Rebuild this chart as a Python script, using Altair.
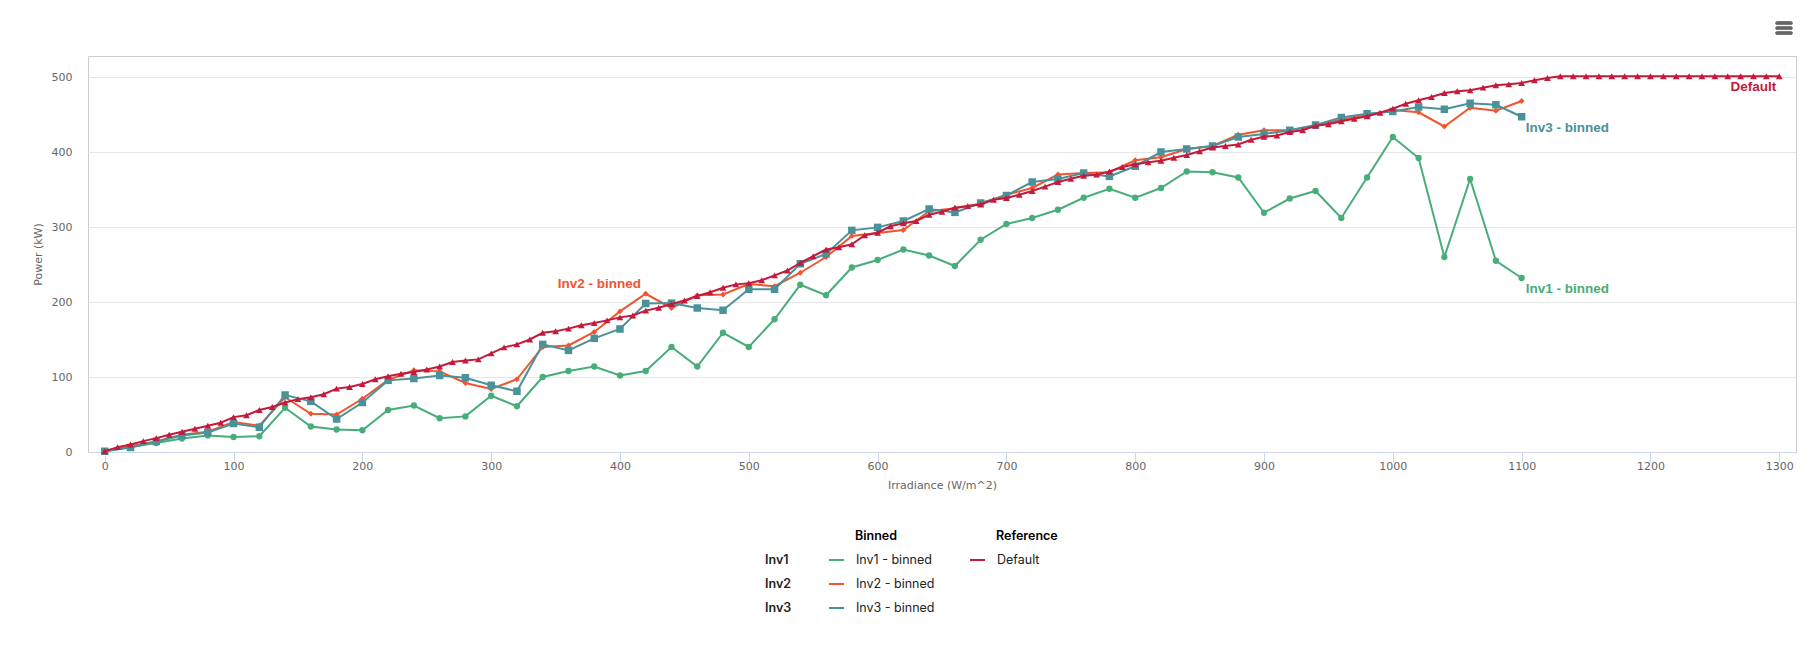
import altair as alt
import pandas as pd

# ---------------- data ----------------
irr_binned = list(range(0, 1101, 20))
inv1 = [1, 6.7, 12, 18, 22, 20, 21, 59, 34, 30,
        29, 56, 62, 45, 47.5, 75, 61, 100, 108, 114,
        102, 108, 140, 114, 159, 140, 177, 223, 209, 246,
        256, 270, 262, 248, 283, 304, 312, 323, 339, 351,
        339, 352, 374, 373, 366, 319, 338, 348, 312, 366,
        420, 392, 260, 364, 255, 232]
inv2 = [1, 8, 14, 23, 27, 40, 35, 73, 51, 50,
        71, 96, 109, 107.5, 92, 84, 97, 140, 142, 160,
        187.5, 211, 192, 209, 210, 224, 221, 239, 260, 288,
        292, 296, 321, 325, 331, 343, 352, 370, 372, 373,
        389, 393, 404, 408, 423, 429, 429, 435, 443, 449,
        456, 453, 434, 459, 455, 468]
inv3 = [1, 6, 14, 22, 26, 38, 33, 76, 67.5, 44,
        66, 95.5, 98, 102, 99, 89, 81, 143.5, 135.5, 151.5,
        164, 198, 198.5, 192, 189, 217, 217, 251, 264, 295.5,
        299.5, 308, 324, 319.5, 332, 342, 360, 364, 372, 367.5,
        381, 400, 404, 408, 420, 424, 429, 436, 446, 451,
        454, 460, 457, 465, 463, 447]

irr_default = list(range(0, 1301, 10))
default = [1, 6.5, 10, 14.5, 18.5, 23, 27, 31, 35, 39,
           46.5, 49, 56, 60, 66, 70.5, 73, 77, 84.5, 86.7,
           90.7, 97, 101, 104.4, 106.7, 110, 114, 120, 122, 123.5,
           131.5, 139.5, 143.5, 150, 159, 161, 164.5, 169, 172, 175.5,
           179.5, 182, 188.5, 192.4, 197.3, 202, 208, 213, 219, 223.5,
           225, 229, 235.5, 242, 252, 261, 270, 273, 277, 289,
           292.4, 301, 305, 308, 316.4, 320.4, 325.8, 328, 330, 336.4,
           338.7, 343, 348, 353.8, 360, 364.4, 368.4, 369.8, 374, 380,
           383.6, 386.2, 388.4, 392.4, 396, 401, 406, 408, 410, 416.4,
           420.4, 422, 426.7, 429, 435, 437, 441, 444.4, 447.6, 452.4,
           457.8, 464.4, 469, 473.3, 478.7, 481, 482.2, 485.8, 489, 490.2,
           492, 495.6, 498.7, 501, 501, 501, 501, 501, 501, 501,
           501, 501, 501, 501, 501, 501, 501, 501, 501, 501,
           501]

series_names = ["Inv1 - binned", "Inv2 - binned", "Inv3 - binned"]
row_labels = ["Inv1", "Inv2", "Inv3"]
ref_names = ["Default"]
group_titles = ["Binned", "Reference"]
binned_values = [inv1, inv2, inv3]

x_ticks = [0, 100, 200, 300, 400, 500, 600, 700, 800, 900, 1000, 1100, 1200, 1300]
y_ticks = [0, 100, 200, 300, 400, 500]
x_title = "Irradiance (W/m^2)"
y_title = "Power (kW)"

# series-label annotations (text, anchor irradiance, anchor power)
label_text = ["Inv1 - binned", "Inv2 - binned", "Inv3 - binned", "Default"]
label_x = [1100, 384, 1100, 1300]
label_y = [232, 224, 447, 501]

# ---------------- styles ----------------
colors = ["#47ad79", "#f2542d", "#4a919a"]
ref_color = "#c41a3b"
shapes = ["circle", "diamond", "square"]
shape_sizes = [40, 34, 56]
label_align = ["left", "center", "left", "right"]
label_dx = [4, 0, 4, -3]
label_dy = [11, 0, 11, 11]
label_colors = colors + [ref_color]

AXIS_FONT = "DejaVu Sans"
LEG_FONT = "Inter"
LBL_FONT = "Liberation Sans"

LEG_COMMON = dict(orient="none", direction="vertical", symbolType="stroke",
                  symbolSize=225, symbolStrokeWidth=2, labelOffset=11,
                  rowPadding=9, padding=0, title=None)
ROW_TOP = 495.5
HEAD_TOP = 471.5

x_enc = alt.X("x:Q",
              scale=alt.Scale(domain=[-13, 1313], nice=False, zero=False),
              axis=alt.Axis(values=x_ticks, title=x_title, grid=False, format="d",
                            domainColor="#ccd6eb", tickColor="#ccd6eb",
                            tickSize=10, labelPadding=-2, titlePadding=8,
                            labelFlush=False))
y_enc = alt.Y("y:Q",
              scale=alt.Scale(domain=[0, 528], nice=False),
              axis=alt.Axis(values=y_ticks, title=y_title, grid=True, format="d",
                            gridColor="#e6e6e6", domain=False, ticks=False,
                            tickSize=0, labelPadding=16, titlePadding=8))

color_enc = alt.Color("series:N",
                      scale=alt.Scale(domain=series_names, range=colors),
                      legend=alt.Legend(legendX=740, legendY=ROW_TOP, **LEG_COMMON))

layers = []

# binned series
for name, vals, col, shp, sz in zip(series_names, binned_values, colors, shapes, shape_sizes):
    df = pd.DataFrame({"x": irr_binned, "y": vals, "series": name})
    base = alt.Chart(df)
    layers.append(base.mark_line(strokeWidth=2).encode(x=x_enc, y=y_enc, color=color_enc))
    layers.append(base.mark_point(filled=True, shape=shp, size=sz, color=col, opacity=1)
                  .encode(x=x_enc, y=y_enc))

# reference series
df_ref = pd.DataFrame({"x": irr_default, "y": default, "series": ref_names[0]})
ref_base = alt.Chart(df_ref)
layers.append(ref_base.mark_line(strokeWidth=2).encode(
    x=x_enc, y=y_enc,
    stroke=alt.Stroke("series:N",
                      scale=alt.Scale(domain=ref_names, range=[ref_color]),
                      legend=alt.Legend(legendX=881, legendY=ROW_TOP, **LEG_COMMON))))
layers.append(ref_base.mark_point(filled=True, shape="triangle-up", size=46,
                                  color=ref_color, opacity=1).encode(x=x_enc, y=y_enc))

# grouped-legend row labels and column headers (invisible marks, legends only)
df_rows = pd.DataFrame({"inv": row_labels})
layers.append(alt.Chart(df_rows).mark_line(opacity=0).encode(
    x=alt.value(0), y=alt.value(0),
    strokeDash=alt.StrokeDash("inv:N", scale=alt.Scale(domain=row_labels),
                              legend=alt.Legend(legendX=649, legendY=ROW_TOP,
                                                symbolOpacity=0, labelFontWeight=600,
                                                **LEG_COMMON))))
df_head = pd.DataFrame({"g": group_titles})
layers.append(alt.Chart(df_head).mark_point(opacity=0).encode(
    x=alt.value(0), y=alt.value(0),
    fill=alt.Fill("g:N", scale=alt.Scale(domain=group_titles[:1], range=["#000000"]),
                  legend=alt.Legend(legendX=739, legendY=HEAD_TOP, symbolOpacity=0,
                                    labelFontWeight=600, labelColor="#000000",
                                    **LEG_COMMON))))
layers.append(alt.Chart(df_head).mark_point(opacity=0).encode(
    x=alt.value(0), y=alt.value(0),
    shape=alt.Shape("g:N", scale=alt.Scale(domain=group_titles[1:], range=["circle"]),
                    legend=alt.Legend(legendX=880, legendY=HEAD_TOP, symbolOpacity=0,
                                      labelFontWeight=600, labelColor="#000000",
                                      **LEG_COMMON))))

# series labels
for t, lx, ly, al, dx, dy, c in zip(label_text, label_x, label_y, label_align,
                                    label_dx, label_dy, label_colors):
    dfl = pd.DataFrame({"x": [lx], "y": [ly], "t": [t]})
    layers.append(alt.Chart(dfl).mark_text(align=al, baseline="middle", dx=dx, dy=dy,
                                           font=LBL_FONT, fontSize=13.5, fontWeight="bold",
                                           color=c)
                  .encode(x=x_enc, y=y_enc, text="t:N"))

# context-menu icon
for yy in [-33, -28, -23]:
    layers.append(alt.Chart(df_rows).mark_rule(color="#666666", strokeWidth=3,
                                               strokeCap="round").encode(
        x=alt.value(1689), x2=alt.value(1703), y=alt.value(yy)))

chart = alt.layer(*layers).properties(
    width=1708, height=396,
    padding={"left": 24, "top": 13, "right": 5, "bottom": 5},
    background="white",
).configure_view(
    stroke="#cccccc", strokeWidth=1
).configure_axis(
    labelFont=AXIS_FONT, labelFontSize=11, labelColor="#666666",
    titleFont=AXIS_FONT, titleFontSize=11, titleColor="#666666", titleFontWeight="normal"
).configure_legend(
    labelFont=LEG_FONT, labelFontSize=12.5, labelColor="#222222",
    titleFont=LEG_FONT, titleFontSize=12.5, titleColor="#000000", titleFontWeight=600
)

chart.save("out.html", embed_options={"renderer": "svg", "actions": False})
